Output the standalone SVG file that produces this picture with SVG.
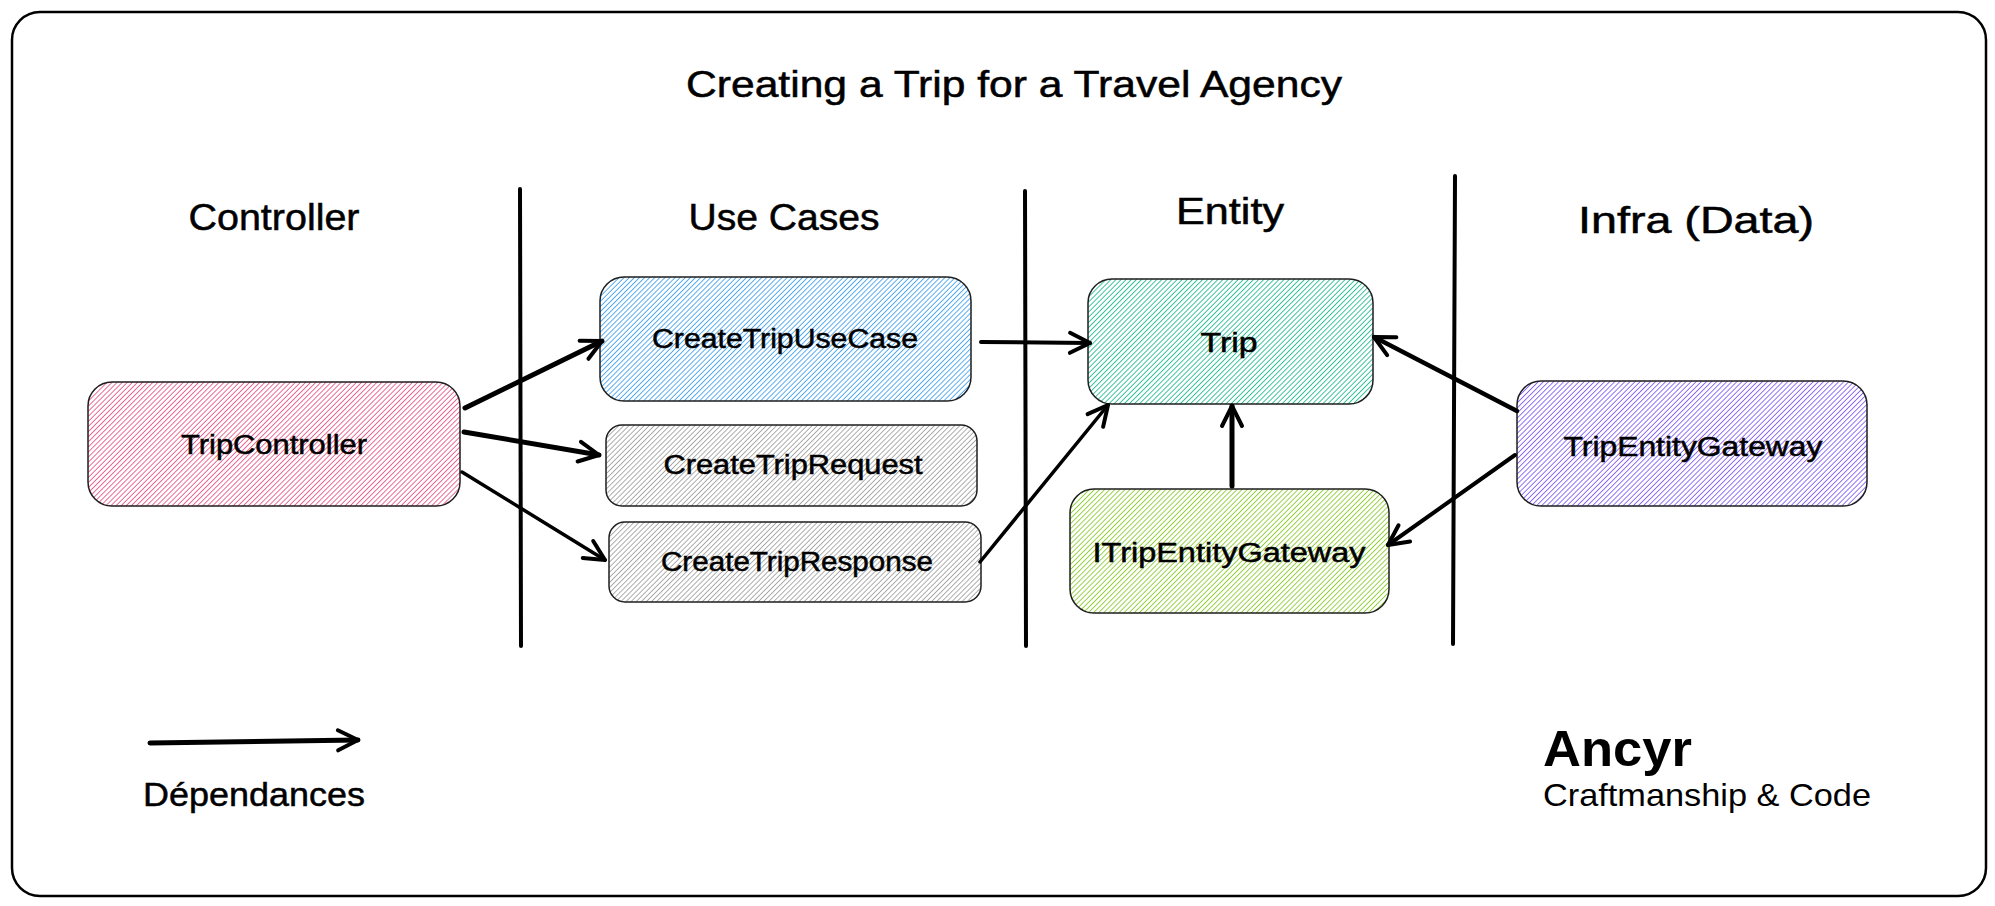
<svg xmlns="http://www.w3.org/2000/svg" width="1995" height="906" viewBox="0 0 1995 906">
<defs>
<style>
.hand{font-family:"Liberation Sans","DejaVu Sans",sans-serif;fill:#000;text-anchor:middle;stroke:#000;stroke-width:0.5}
.hdr{font-size:36px}
.lbl{font-size:27px}
.node{stroke:#1e1e1e;stroke-width:1.5}
.div{stroke:#000;stroke-width:4;stroke-linecap:round}
.conn{stroke:#000;fill:none;stroke-linecap:round}
</style>
<pattern id="hPink" width="3.6" height="4" patternUnits="userSpaceOnUse" patternTransform="rotate(45)"><line x1="0" y1="0" x2="0" y2="4" stroke="#e64980" stroke-width="1.6"/></pattern>
<pattern id="hBlue" width="3.6" height="4" patternUnits="userSpaceOnUse" patternTransform="rotate(45)"><line x1="0" y1="0" x2="0" y2="4" stroke="#339af0" stroke-width="1.6"/></pattern>
<pattern id="hGray" width="3.6" height="4" patternUnits="userSpaceOnUse" patternTransform="rotate(45)"><line x1="0" y1="0" x2="0" y2="4" stroke="#999" stroke-width="1.6"/></pattern>
<pattern id="hTeal" width="3.6" height="4" patternUnits="userSpaceOnUse" patternTransform="rotate(45)"><line x1="0" y1="0" x2="0" y2="4" stroke="#12b886" stroke-width="1.6"/></pattern>
<pattern id="hGreen" width="3.6" height="4" patternUnits="userSpaceOnUse" patternTransform="rotate(45)"><line x1="0" y1="0" x2="0" y2="4" stroke="#82c91e" stroke-width="1.6"/></pattern>
<pattern id="hPurple" width="3.6" height="4" patternUnits="userSpaceOnUse" patternTransform="rotate(45)"><line x1="0" y1="0" x2="0" y2="4" stroke="#7950f2" stroke-width="1.6"/></pattern>
<marker id="arr" viewBox="-24 -14 28 28" markerWidth="28" markerHeight="28" refX="0" refY="0" orient="auto" markerUnits="userSpaceOnUse">
<path d="M -20 -10 L 0 0 L -20 10" fill="none" stroke="#000" stroke-width="4" stroke-linecap="round" stroke-linejoin="round"/>
</marker>
</defs>
<rect width="1995" height="906" fill="#fff"/>
<rect id="frame" x="12" y="12" width="1974" height="884" rx="28" fill="none" stroke="#000" stroke-width="2.5"/>
<text class="hand" x="1014" y="97" font-size="36" textLength="656" lengthAdjust="spacingAndGlyphs">Creating a Trip for a Travel Agency</text>
<g id="headers">
<text class="hand hdr" x="274" y="230" textLength="171" lengthAdjust="spacingAndGlyphs">Controller</text>
<text class="hand hdr" x="784" y="230" textLength="191" lengthAdjust="spacingAndGlyphs">Use Cases</text>
<text class="hand hdr" x="1230" y="224" textLength="108" lengthAdjust="spacingAndGlyphs">Entity</text>
<text class="hand hdr" x="1696" y="233" textLength="236" lengthAdjust="spacingAndGlyphs">Infra (Data)</text>
</g>
<g id="dividers">
<line class="div" x1="520" y1="189" x2="521" y2="646"/>
<line class="div" x1="1025" y1="191" x2="1026" y2="646"/>
<line class="div" x1="1455" y1="176" x2="1453" y2="644"/>
</g>
<g id="TripController"><rect class="node" x="88" y="382" width="372" height="124" rx="24" fill="url(#hPink)"/><text class="hand lbl" x="274" y="454" textLength="186" lengthAdjust="spacingAndGlyphs">TripController</text></g>
<g id="CreateTripUseCase"><rect class="node" x="600" y="277" width="371" height="124" rx="24" fill="url(#hBlue)"/><text class="hand lbl" x="785" y="348" textLength="266" lengthAdjust="spacingAndGlyphs">CreateTripUseCase</text></g>
<g id="CreateTripRequest"><rect class="node" x="606" y="425" width="371" height="81" rx="16" fill="url(#hGray)"/><text class="hand lbl" x="793" y="474" textLength="259" lengthAdjust="spacingAndGlyphs">CreateTripRequest</text></g>
<g id="CreateTripResponse"><rect class="node" x="609" y="522" width="372" height="80" rx="16" fill="url(#hGray)"/><text class="hand lbl" x="797" y="571" textLength="272" lengthAdjust="spacingAndGlyphs">CreateTripResponse</text></g>
<g id="Trip"><rect class="node" x="1088" y="279" width="285" height="125" rx="24" fill="url(#hTeal)"/><text class="hand lbl" x="1229" y="352" textLength="57" lengthAdjust="spacingAndGlyphs">Trip</text></g>
<g id="ITripEntityGateway"><rect class="node" x="1070" y="489" width="319" height="124" rx="24" fill="url(#hGreen)"/><text class="hand lbl" x="1229" y="562" textLength="273" lengthAdjust="spacingAndGlyphs">ITripEntityGateway</text></g>
<g id="TripEntityGateway"><rect class="node" x="1517" y="381" width="350" height="125" rx="24" fill="url(#hPurple)"/><text class="hand lbl" x="1693" y="456" textLength="259" lengthAdjust="spacingAndGlyphs">TripEntityGateway</text></g>
<g id="connectors">
<line class="conn" stroke-width="5" x1="465" y1="408" x2="602" y2="341" marker-end="url(#arr)"/>
<line class="conn" stroke-width="5" x1="464" y1="432" x2="599" y2="455" marker-end="url(#arr)"/>
<line class="conn" stroke-width="3.5" x1="462" y1="472" x2="605" y2="560" marker-end="url(#arr)"/>
<line class="conn" stroke-width="4" x1="981" y1="342" x2="1090" y2="343" marker-end="url(#arr)"/>
<line class="conn" stroke-width="3.5" x1="980" y1="562" x2="1108" y2="405" marker-end="url(#arr)"/>
<line class="conn" stroke-width="5" x1="1232" y1="486" x2="1232" y2="406" marker-end="url(#arr)"/>
<line class="conn" stroke-width="4.5" x1="1517" y1="411" x2="1374" y2="337" marker-end="url(#arr)"/>
<line class="conn" stroke-width="4" x1="1515" y1="455" x2="1388" y2="545" marker-end="url(#arr)"/>
</g>
<g id="legend">
<line class="conn" stroke-width="5" x1="150" y1="743" x2="358" y2="740" marker-end="url(#arr)"/>
<text class="hand" x="254" y="806" font-size="34" textLength="222" lengthAdjust="spacingAndGlyphs">Dépendances</text>
</g>
<g id="brand">
<text x="1543" y="766" font-family="'Liberation Sans',sans-serif" font-weight="700" font-size="50" textLength="149" lengthAdjust="spacingAndGlyphs">Ancyr</text>
<text x="1543" y="806" font-family="'Liberation Sans',sans-serif" font-size="32" textLength="328" lengthAdjust="spacingAndGlyphs">Craftmanship &amp; Code</text>
</g>
</svg>
